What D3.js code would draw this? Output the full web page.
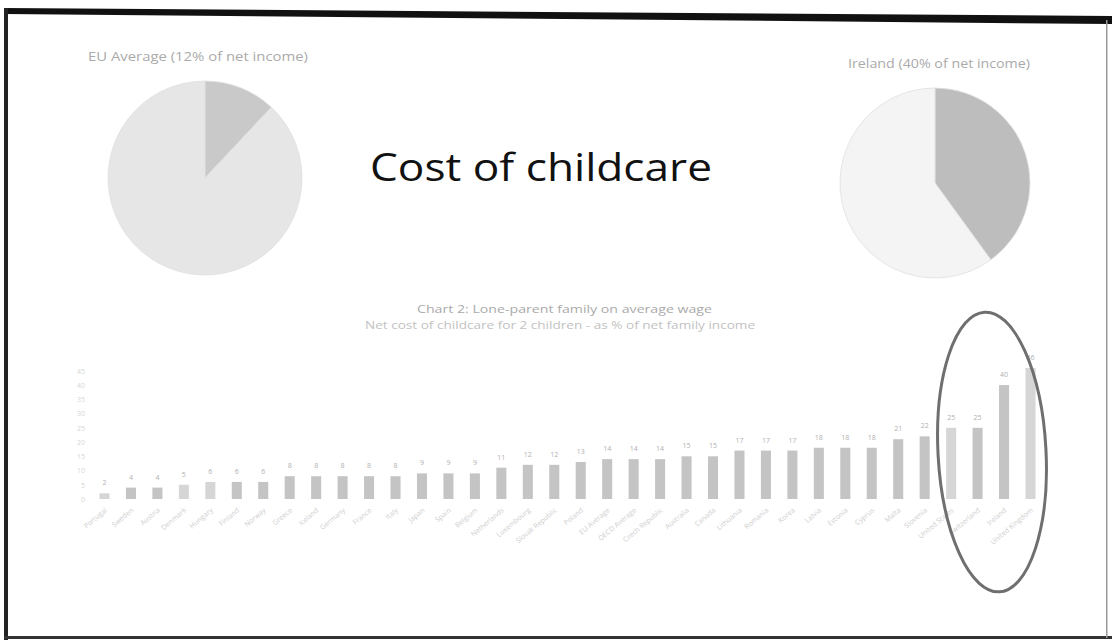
<!DOCTYPE html>
<html>
<head>
<meta charset="utf-8">
<script src="https://cdn.jsdelivr.net/npm/d3@7"></script>
<style>
  html, body { margin: 0; padding: 0; background: #fff; }
  svg { display: block; }
</style>
</head>
<body>
<svg id="chart" width="1112" height="642"></svg>
<script>
// ---- data ----
const mainTitle = "Cost of childcare";
const euPieLabel = "EU Average (12% of net income)";
const irePieLabel = "Ireland (40% of net income)";
const euPieValues = [12, 88];
const irePieValues = [40, 60];
const chartTitle = "Chart 2: Lone-parent family on average wage";
const chartSubtitle = "Net cost of childcare for 2 children - as % of net family income";
const countries = ["Portugal","Sweden","Austria","Denmark","Hungary","Finland","Norway","Greece",
  "Iceland","Germany","France","Italy","Japan","Spain","Belgium","Netherlands","Luxembourg",
  "Slovak Republic","Poland","EU Average","OECD Average","Czech Republic","Australia","Canada",
  "Lithuania","Romania","Korea","Latvia","Estonia","Cyprus","Malta","Slovenia","United States",
  "Switzerland","Ireland","United Kingdom"];
const costs = [2,4,4,5,6,6,6,8,8,8,8,8,9,9,9,11,12,12,13,14,14,14,15,15,17,17,17,18,18,18,21,22,25,25,40,46];
const lightBars = ["Portugal","Denmark","Hungary","United States","United Kingdom"];
const yTicks = [0,5,10,15,20,25,30,35,40,45];

const svg = d3.select("#chart");
const font = "Open Sans, sans-serif";

// ---- scan frame ----
svg.append("polygon")
  .attr("points", "4,8 1112,16 1112,24 4,14")
  .attr("fill", "#111");
svg.append("rect").attr("x", 4).attr("y", 8).attr("width", 4).attr("height", 632).attr("fill", "#222");
svg.append("rect").attr("x", 4).attr("y", 636).attr("width", 1108).attr("height", 3).attr("fill", "#333");
svg.append("rect").attr("x", 1106).attr("y", 20).attr("width", 1.5).attr("height", 618).attr("fill", "#999");

// ---- title ----
svg.append("text")
  .attr("x", 370).attr("y", 181)
  .attr("font-family", font)
  .attr("font-size", 38)
  .attr("textLength", 342)
  .attr("lengthAdjust", "spacingAndGlyphs")
  .attr("fill", "#111")
  .text(mainTitle);

// ---- pies ----
const pie = d3.pie().sort(null);
function drawPie(cx, cy, r, values, colors, label, lx, ly, lw) {
  const g = svg.append("g").attr("transform", `translate(${cx},${cy})`);
  const arc = d3.arc().innerRadius(0).outerRadius(r);
  g.selectAll("path").data(pie(values)).join("path")
    .attr("d", arc)
    .attr("fill", (d, i) => colors[i])
    .attr("stroke", "#e0e0e0")
    .attr("stroke-width", 0.8);
  svg.append("text")
    .attr("x", lx).attr("y", ly)
    .attr("font-family", font)
    .attr("font-size", 12)
    .attr("textLength", lw)
    .attr("lengthAdjust", "spacingAndGlyphs")
    .attr("fill", "#aaa")
    .text(label);
}
drawPie(205, 178, 97, euPieValues, ["#c9c9c9", "#e6e6e6"], euPieLabel, 88, 61, 220);
drawPie(935, 183, 95, irePieValues, ["#bdbdbd", "#f4f4f4"], irePieLabel, 848, 68, 182);

// ---- bar chart ----
svg.append("text")
  .attr("x", 417).attr("y", 313)
  .attr("font-family", font)
  .attr("font-size", 11)
  .attr("textLength", 295)
  .attr("lengthAdjust", "spacingAndGlyphs")
  .attr("fill", "#aaa")
  .text(chartTitle);
svg.append("text")
  .attr("x", 365).attr("y", 329)
  .attr("font-family", font)
  .attr("font-size", 11)
  .attr("textLength", 390)
  .attr("lengthAdjust", "spacingAndGlyphs")
  .attr("fill", "#c2c2c2")
  .text(chartSubtitle);

const x = d3.scaleBand().domain(countries).range([91, 1044]).paddingInner(0.62).paddingOuter(0.32);
const y = d3.scaleLinear().domain([0, 46]).range([499, 368]);

const yAxis = svg.append("g").attr("transform", "translate(88,0)")
  .call(d3.axisLeft(y).tickValues(yTicks).tickSize(0));
yAxis.select(".domain").remove();
yAxis.selectAll("text").attr("fill", "#d6d6d6").attr("font-size", 7).attr("font-family", font);

svg.append("g").selectAll("rect").data(countries).join("rect")
  .attr("x", d => x(d))
  .attr("width", x.bandwidth())
  .attr("y", (d, i) => y(costs[i]))
  .attr("height", (d, i) => y(0) - y(costs[i]))
  .attr("fill", d => lightBars.includes(d) ? "#d6d6d6" : "#c4c4c4");

svg.append("g").selectAll("text").data(countries).join("text")
  .attr("x", d => x(d) + x.bandwidth() / 2)
  .attr("y", (d, i) => y(costs[i]) - 8)
  .attr("text-anchor", "middle")
  .attr("font-family", font)
  .attr("font-size", 7)
  .attr("fill", "#b0b0b0")
  .text((d, i) => costs[i]);

svg.append("g").selectAll("text").data(countries).join("text")
  .attr("transform", d => `translate(${x(d) + x.bandwidth() / 2 + 3},${y(0) + 12}) rotate(-40)`)
  .attr("text-anchor", "end")
  .attr("font-family", font)
  .attr("font-size", 7)
  .attr("fill", "#cdcdcd")
  .text(d => d);

// ---- highlight ellipse ----
svg.append("ellipse")
  .attr("cx", 992).attr("cy", 452).attr("rx", 54).attr("ry", 140)
  .attr("transform", "rotate(-3,992,452)")
  .attr("fill", "none")
  .attr("stroke", "#6f6f6f")
  .attr("stroke-width", 3);
</script>
</body>
</html>
